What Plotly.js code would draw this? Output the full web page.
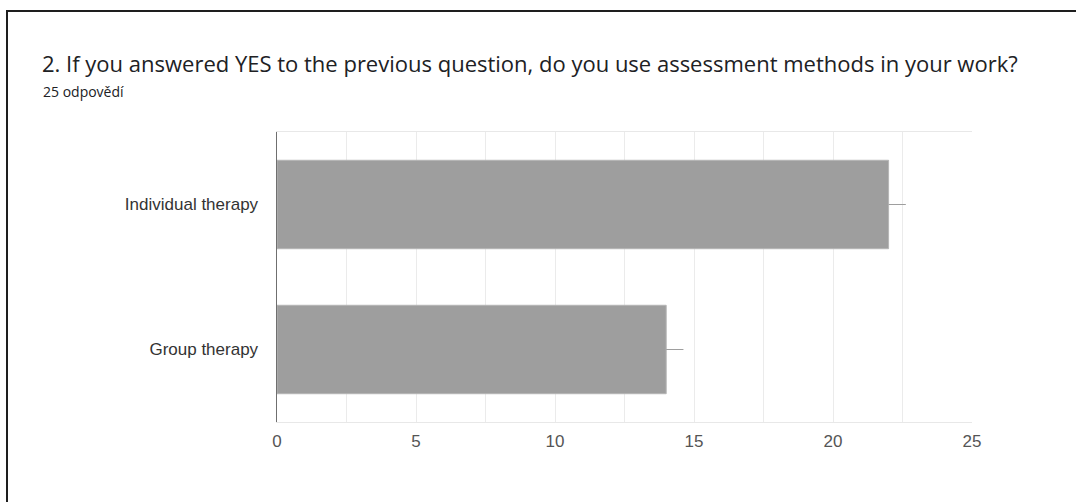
<!DOCTYPE html>
<html>
<head>
<meta charset="utf-8">
<script src="https://cdn.plot.ly/plotly-3.0.1.min.js"></script>
<style>
  html, body { margin: 0; padding: 0; background: #fff; }
  #chart { width: 1076px; height: 502px; position: absolute; left: 0; top: 0; }
  #frame { position: absolute; left: 6px; top: 10px; width: 1080px; height: 500px;
           border-left: 2px solid #1e1e1e; border-top: 2px solid #1e1e1e; pointer-events: none; }
</style>
</head>
<body>
<div id="chart"></div>
<div id="frame"></div>
<script>
const titleText = "2. If you answered YES to the previous question, do you use assessment methods in your work?";
const subtitleText = "25 odpovědí";
const categories = ["Individual therapy", "Group therapy"];
const counts = [22, 14];
const tickValues = [0, 5, 10, 15, 20, 25];
const tickLabels = ["0", "5", "10", "15", "20", "25"];

const trace = {
  type: "bar",
  orientation: "h",
  y: categories,
  x: counts,
  marker: { color: "#9e9e9e", line: { color: "#b5b5b5", width: 1 } },
  error_x: { type: "data", symmetric: false, array: counts.map(() => 0.62), arrayminus: counts.map(() => 0),
             width: 0, color: "#9e9e9e", thickness: 1 },
  hoverinfo: "none"
};

const layout = {
  width: 1076, height: 502,
  margin: { l: 277, r: 104, t: 132, b: 80, pad: 0 },
  paper_bgcolor: "#fff", plot_bgcolor: "#fff",
  showlegend: false,
  bargap: 0.39,
  font: { family: "Liberation Sans, Arial, sans-serif", color: "#444", size: 17 },
  title: {
    text: titleText,
    xref: "container", yref: "container",
    x: 42 / 1076, xanchor: "left",
    y: 1 - 64 / 502, yanchor: "middle",
    font: { family: "Open Sans, sans-serif", size: 22, color: "#202124" }
  },
  annotations: [{
    text: subtitleText, xref: "paper", yref: "paper",
    x: (41 - 277) / 695, xanchor: "left",
    y: (422 - 92) / 290, yanchor: "middle",
    showarrow: false,
    font: { family: "Open Sans, sans-serif", size: 14, color: "#202124" }
  }],
  xaxis: {
    range: [0, 25],
    tickvals: tickValues, ticktext: tickLabels,
    showgrid: true, gridcolor: "#ebebeb", gridwidth: 1,
    minor: { dtick: 2.5, showgrid: true, gridcolor: "#ebebeb", gridwidth: 1 },
    zeroline: false,
    showline: true, mirror: true, linecolor: "#e8e8e8", linewidth: 1,
    ticks: "", ticklen: 0,
    ticklabelstandoff: 4,
    tickfont: { size: 17, color: "#555" },
    fixedrange: true
  },
  yaxis: {
    autorange: "reversed",
    showgrid: false, zeroline: false,
    showline: true, linecolor: "#6f6f6f", linewidth: 1.5,
    ticks: "", ticklen: 0,
    ticklabelstandoff: 14,
    tickfont: { size: 17, color: "#333" },
    fixedrange: true
  }
};

Plotly.newPlot("chart", [trace], layout, { displayModeBar: false, staticPlot: true });
</script>
</body>
</html>
